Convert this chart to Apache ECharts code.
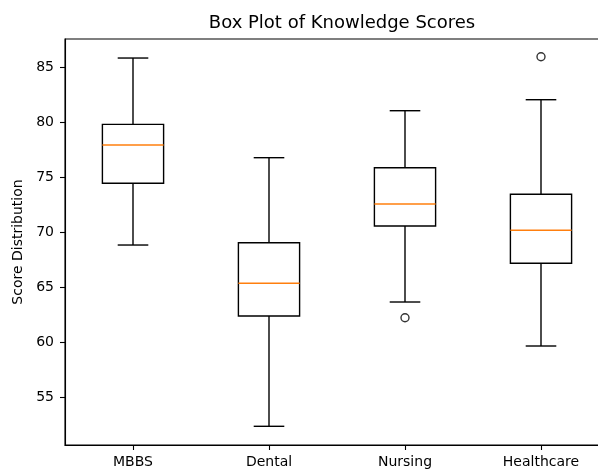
<!DOCTYPE html>
<html>
<head>
<meta charset="utf-8">
<script src="https://cdn.jsdelivr.net/npm/echarts@6/dist/echarts.min.js"></script>
<style>html,body{margin:0;padding:0;background:#fff;}#c{width:598px;height:472px;}</style>
</head>
<body>
<div id="c"></div>
<script>
var categories = ['MBBS', 'Dental', 'Nursing', 'Healthcare'];
// [lower whisker, Q1, median, Q3, upper whisker]
var mbbs = [68.88, 74.49, 77.97, 79.85, 85.88];
var dental = [52.40, 62.43, 65.40, 69.09, 76.82];
var nursing = [63.70, 70.61, 72.61, 75.91, 81.09];
var healthcare = [59.70, 67.22, 70.22, 73.49, 82.09];
// outliers: [category index, value]
var outliers = [[2, 62.27], [3, 86.0]];
var yTicks = [55, 60, 65, 70, 75, 80, 85];
var yMin = 50.70, yMax = 87.61;

var boxes = [mbbs, dental, nursing, healthcare].map(function (b, i) { return [i].concat(b); });
var FONT = 'DejaVu Sans';
var chart = echarts.init(document.getElementById('c'), null, {renderer: 'canvas'});

function renderBox(params, api) {
  var i = api.value(0);
  var lo = api.coord([i, api.value(1)]);
  var q1 = api.coord([i, api.value(2)]);
  var med = api.coord([i, api.value(3)]);
  var q3 = api.coord([i, api.value(4)]);
  var hi = api.coord([i, api.value(5)]);
  var band = api.size([1, 0])[0];
  var bw = band * 0.45, cw = bw / 2;
  var x = lo[0];
  var ls = {stroke: '#000', lineWidth: 1.4, fill: null};
  return {
    type: 'group',
    children: [
      {type: 'line', shape: {x1: x, y1: lo[1], x2: x, y2: q1[1]}, style: ls},
      {type: 'line', shape: {x1: x, y1: q3[1], x2: x, y2: hi[1]}, style: ls},
      {type: 'line', shape: {x1: x - cw / 2, y1: lo[1], x2: x + cw / 2, y2: lo[1]}, style: ls},
      {type: 'line', shape: {x1: x - cw / 2, y1: hi[1], x2: x + cw / 2, y2: hi[1]}, style: ls},
      {type: 'rect', shape: {x: x - bw / 2, y: q3[1], width: bw, height: q1[1] - q3[1]}, style: {stroke: '#000', lineWidth: 1.4, fill: 'none'}},
      {type: 'line', shape: {x1: x - bw / 2, y1: med[1], x2: x + bw / 2, y2: med[1]}, style: {stroke: '#ff7f0e', lineWidth: 1.4}}
    ]
  };
}

chart.setOption({
  animation: false,
  backgroundColor: '#fff',
  title: {
    text: 'Box Plot of Knowledge Scores',
    left: 337, top: 9, textAlign: 'center',
    textStyle: {fontFamily: FONT, fontSize: 18, fontWeight: 'normal', color: '#000'}
  },
  grid: {left: 65, width: 544, top: 39, bottom: 27, outerBoundsMode: 'none', containLabel: false,
         show: true, borderColor: '#000', borderWidth: 1.1, backgroundColor: 'transparent'},
  xAxis: {
    type: 'category', data: categories, boundaryGap: true,
    axisLine: {show: true, lineStyle: {color: '#000', width: 1.1}},
    axisTick: {show: true, alignWithLabel: true, length: 5, lineStyle: {color: '#000', width: 1.1}},
    axisLabel: {fontFamily: FONT, fontSize: 14, color: '#000', margin: 10},
    splitLine: {show: false}
  },
  yAxis: {
    type: 'value', min: yMin, max: yMax,
    name: 'Score Distribution', nameLocation: 'middle', nameGap: 40, nameRotate: 90,
    nameTextStyle: {fontFamily: FONT, fontSize: 14, color: '#000'},
    axisLine: {show: true, lineStyle: {color: '#000', width: 1.1}},
    axisTick: {show: true, length: 5, lineStyle: {color: '#000', width: 1.1}, customValues: yTicks},
    axisLabel: {fontFamily: FONT, fontSize: 14, color: '#000', margin: 11, customValues: yTicks},
    splitLine: {show: false}
  },
  series: [
    {type: 'custom', renderItem: renderBox, data: boxes, encode: {x: 0, y: [1, 2, 3, 4, 5]}, z: 2},
    {type: 'scatter', data: outliers, symbol: 'circle', symbolSize: 8,
     itemStyle: {color: 'rgba(0,0,0,0)', borderColor: '#000', borderWidth: 1.4}, z: 3}
  ]
});
</script>
</body>
</html>
